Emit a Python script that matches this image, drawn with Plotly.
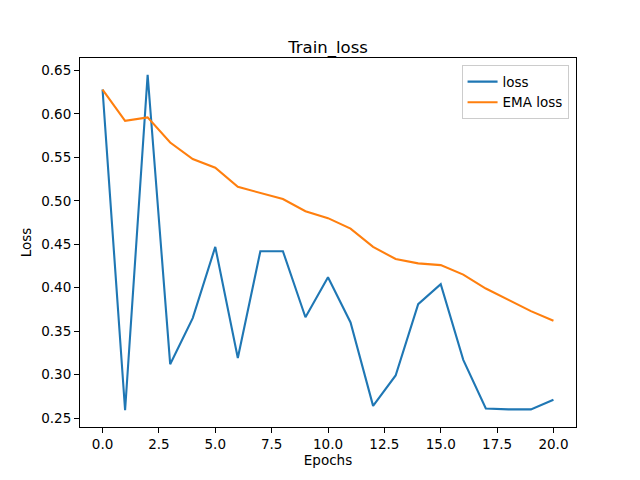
import plotly.graph_objects as go

epochs = list(range(21))
loss = [0.628, 0.259, 0.645, 0.312, 0.365, 0.447, 0.319, 0.442, 0.442, 0.366,
        0.412, 0.360, 0.264, 0.299, 0.381, 0.404, 0.317, 0.261, 0.260, 0.260, 0.271]
ema_loss = [0.628, 0.592, 0.596, 0.567, 0.548, 0.538, 0.516, 0.509, 0.502, 0.488,
            0.480, 0.468, 0.447, 0.433, 0.428, 0.426, 0.415, 0.399, 0.386, 0.373, 0.362]
x_ticks = [0, 2.5, 5, 7.5, 10, 12.5, 15, 17.5, 20]
y_ticks = [0.25, 0.30, 0.35, 0.40, 0.45, 0.50, 0.55, 0.60, 0.65]

FONT = "DejaVu Sans"

fig = go.Figure()
fig.add_trace(go.Scatter(x=epochs, y=loss, mode="lines", name="loss",
                         line=dict(color="#1f77b4", width=2.1)))
fig.add_trace(go.Scatter(x=epochs, y=ema_loss, mode="lines", name="EMA loss",
                         line=dict(color="#ff7f0e", width=2.1)))

ymin, ymax = min(loss + ema_loss), max(loss + ema_loss)
pad = 0.05 * (ymax - ymin)

axis_common = dict(showline=True, mirror=True, linecolor="black", linewidth=1.1,
                   showgrid=False, zeroline=False, ticks="outside", ticklen=5,
                   tickwidth=1.1, tickcolor="black",
                   tickfont=dict(family=FONT, size=13.5, color="black"))

fig.update_layout(
    width=632, height=472,
    margin=dict(l=72, r=64, t=50, b=53, autoexpand=False),
    paper_bgcolor="white", plot_bgcolor="white",
    title=dict(text="Train_loss", x=0.5, xref="paper", xanchor="center",
               y=1, yref="paper", yanchor="bottom", pad=dict(b=5),
               font=dict(family=FONT, size=16.5, color="black")),
    xaxis=dict(range=[-1, 21], tickvals=x_ticks, tickformat=".1f",
               title=dict(text="Epochs", standoff=4,
                          font=dict(family=FONT, size=13.5, color="black")),
               **axis_common),
    yaxis=dict(range=[ymin - pad, ymax + pad], tickvals=y_ticks, tickformat=".2f",
               title=dict(text="Loss", standoff=6,
                          font=dict(family=FONT, size=13.5, color="black")),
               **axis_common),
    legend=dict(x=0.985, y=0.98, xanchor="right", yanchor="top",
                bgcolor="rgba(255,255,255,0.8)", bordercolor="#cccccc", borderwidth=1,
                font=dict(family=FONT, size=13.5, color="black"),
                tracegroupgap=0, itemwidth=30),
    showlegend=True,
)

fig.write_html("out.html")
